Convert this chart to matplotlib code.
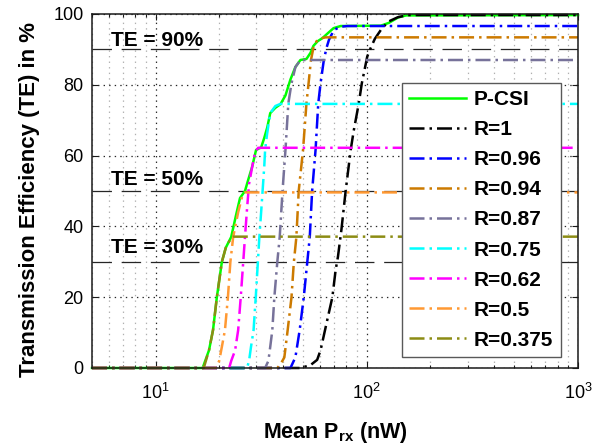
import matplotlib
matplotlib.use("Agg")
import matplotlib.pyplot as plt
from matplotlib.ticker import LogLocator, NullFormatter, FixedLocator

plt.rcParams['font.family'] = ['Liberation Sans', 'DejaVu Sans']
plt.rcParams['mathtext.fontset'] = 'custom'
plt.rcParams['mathtext.rm'] = 'Liberation Sans'
plt.rcParams['mathtext.bf'] = 'Liberation Sans:bold'
plt.rcParams['mathtext.it'] = 'Liberation Sans:italic'
plt.rcParams['lines.scale_dashes'] = False

# ---- data: mean received power (nW) vs transmission efficiency (%) ----
pcsi_x = [5, 16.7, 17.9, 18.7, 19.5, 20.6, 21.5, 22.8, 24.0, 25.1, 26.5, 27.4, 28.7, 29.9,
          31.6, 32.7, 33.8, 34.9, 36.9, 39.0, 41.2, 43.5, 45.9, 48.5, 51.8, 54.1, 55.9, 58.5,
          61.7, 65.2, 69.6, 75.2, 116.6, 127.3, 140.5, 153.4, 1000]
pcsi_y = [0, 0, 5, 10.7, 20, 30, 34, 37, 43, 48, 50, 53, 57, 61.6,
          62.3, 65, 68, 72, 73.5, 74.5, 77, 81.5, 85, 87, 87.3, 89, 91, 92.3,
          93.2, 94.5, 96, 96.6, 96.7, 97.5, 99, 99.6, 99.7]

r1_x = [5, 48.5, 54.1, 58.2, 60.4, 65.0, 68.7, 71.2, 73.0, 75.8, 79.4, 83.9, 86.7, 91.6,
        94.7, 100.5, 104.5, 109.2, 116.6, 125.9, 140.5, 156.8, 1000]
r1_y = [0, 0, 0.8, 2.3, 5, 13.6, 20, 27.7, 31.4, 39, 50, 61.6, 67, 74.7,
        80.4, 88, 90.5, 93, 95.5, 97.8, 99.1, 99.7, 99.7]

r096_x = [5, 43.5, 45.9, 48.1, 50.3, 52.2, 53.7, 55.1, 57.2, 58.9, 60.4, 62.6, 64.5, 66.2,
          69.9, 75.2, 80.9, 1000]
r096_y = [0, 0, 3, 10.7, 20, 29.6, 37, 50, 61.6, 74.7, 80.4, 87, 90.5, 92.7,
          95.5, 96.4, 96.6, 96.6]

r094_x = [5, 37.7, 39.0, 40.7, 42.2, 44.0, 45.1, 46.4, 47.6, 49.9, 51.8, 53.0, 54.4, 55.9,
          57.8, 60.4, 63.8, 1000]
r094_y = [0, 0, 1, 3, 10.7, 20, 29.6, 37, 50, 61.6, 74.8, 80.4, 87, 90.5,
          92.3, 93.1, 93.4, 93.4]

r087_x = [5, 33.0, 34.2, 34.9, 35.7, 36.5, 37.7, 38.7, 39.9, 41.2, 42.5, 44.0, 45.9, 48.5, 1000]
r087_y = [0, 0, 2, 6, 10.7, 20, 30, 37, 50, 61.6, 74.7, 80.4, 85, 87, 87]

r075_x = [5, 27.1, 27.7, 28.3, 29.1, 29.8, 30.5, 31.0, 31.9, 32.7, 33.0, 33.7, 34.9, 36.9,
          39.0, 1000]
r075_y = [0, 0, 2, 6, 10.7, 20, 30, 37, 47.5, 57, 61.6, 66, 72, 74,
          74.6, 74.6]

r062_x = [5, 22.3, 22.8, 23.8, 24.6, 25.3, 26.0, 26.5, 27.1, 27.7, 28.7, 29.6, 30.6, 1000]
r062_y = [0, 0, 2, 5, 10.7, 20, 30, 37, 45, 52, 57, 61, 62.2, 62.2]

r05_x = [5, 19.3, 20.0, 20.6, 21.3, 22.0, 22.6, 23.3, 24.6, 25.7, 26.5, 1000]
r05_y = [0, 0, 2, 6, 10.7, 20, 30, 37, 44, 48.5, 49.6, 49.6]

r0375_x = [5, 16.9, 17.9, 18.7, 19.5, 20.6, 21.5, 22.8, 23.3, 1000]
r0375_y = [0, 0, 5, 10.7, 20, 30, 34, 36.8, 37.1, 37.1]

labels = ['P-CSI', 'R=1', 'R=0.96', 'R=0.94', 'R=0.87', 'R=0.75', 'R=0.62', 'R=0.5', 'R=0.375']
colors = ['#00ff00', '#000000', '#0000ff', '#cc7a00', '#77729a', '#00ffff', '#ff00ff',
          '#ff9933', '#8c8c14']
series = [(pcsi_x, pcsi_y), (r1_x, r1_y), (r096_x, r096_y), (r094_x, r094_y),
          (r087_x, r087_y), (r075_x, r075_y), (r062_x, r062_y), (r05_x, r05_y),
          (r0375_x, r0375_y)]

te_levels = [90, 50, 30]
te_texts = ['TE = 90%', 'TE = 50%', 'TE = 30%']
te_text_y = [90.9, 51.7, 32.4]

fig = plt.figure(figsize=(6.11, 4.44), dpi=100)
ax = fig.add_axes([0.1506, 0.1712, 0.7954, 0.7973])
ax.set_xscale('log')
ax.set_xlim(5, 1000)
ax.set_ylim(0, 100)

# grid: major dotted black, minor (x) dotted light gray
ax.xaxis.set_major_locator(LogLocator(base=10, numticks=10))
ax.xaxis.set_minor_locator(LogLocator(base=10, subs=range(2, 10), numticks=20))
ax.xaxis.set_minor_formatter(NullFormatter())
ax.yaxis.set_major_locator(FixedLocator([0, 20, 40, 60, 80, 100]))
ax.grid(True, which='major', axis='both', color='#262626', linestyle=(0, (1.0, 3.0)),
        linewidth=0.9)
ax.grid(True, which='minor', axis='x', color='#b0b0b0', linestyle=(0, (1.0, 3.0)),
        linewidth=0.9)
ax.set_axisbelow(True)

# reference TE levels
for lvl, txt, ty in zip(te_levels, te_texts, te_text_y):
    ax.axhline(lvl, color='#262626', linewidth=0.9, linestyle=(0, (14.0, 7.0)), zorder=1.5)
    ax.text(6.15, ty, txt, fontsize=15, fontweight='bold', ha='left', va='baseline',
            zorder=5)

dashdot = (0, (10.8, 3.6, 1.8, 3.6))
handles = []
for i, ((xs, ys), lab, col) in enumerate(zip(series, labels, colors)):
    ls = '-' if i == 0 else dashdot
    h, = ax.plot(xs, ys, color=col, linestyle=ls, linewidth=1.8, label=lab,
                 clip_on=False, zorder=2 + i * 0.01)
    handles.append(h)

for s in ax.spines.values():
    s.set_linewidth(1.1)
    s.set_color('#1a1a1a')
ax.tick_params(which='both', direction='in', top=True, right=True, labelsize=13,
               color='#1a1a1a')
ax.tick_params(axis='x', which='major', pad=11)
ax.tick_params(axis='y', which='major', pad=6)
ax.tick_params(which='major', length=4.5, width=0.8)
ax.tick_params(which='minor', length=2.5, width=0.8)

ax.set_xlabel(r'Mean P$_{\mathbf{rx}}$ (nW)', fontsize=15.5, fontweight='bold', labelpad=12)
ax.set_ylabel('Transmission Efficiency (TE) in %', fontsize=16, fontweight='bold')
ax.yaxis.set_label_coords(-0.107, 0.475)

leg = ax.legend(handles=handles, loc='upper left', bbox_to_anchor=(0.638, 0.805),
                borderaxespad=0, prop={'weight': 'bold', 'size': 15},
                handlelength=2.7, handletextpad=0.4, labelspacing=0.53,
                borderpad=0.35, fancybox=False, framealpha=1, edgecolor='#595959')
leg.get_frame().set_linewidth(1.0)
leg.set_zorder(10)

fig.savefig('out.png', dpi=100)
